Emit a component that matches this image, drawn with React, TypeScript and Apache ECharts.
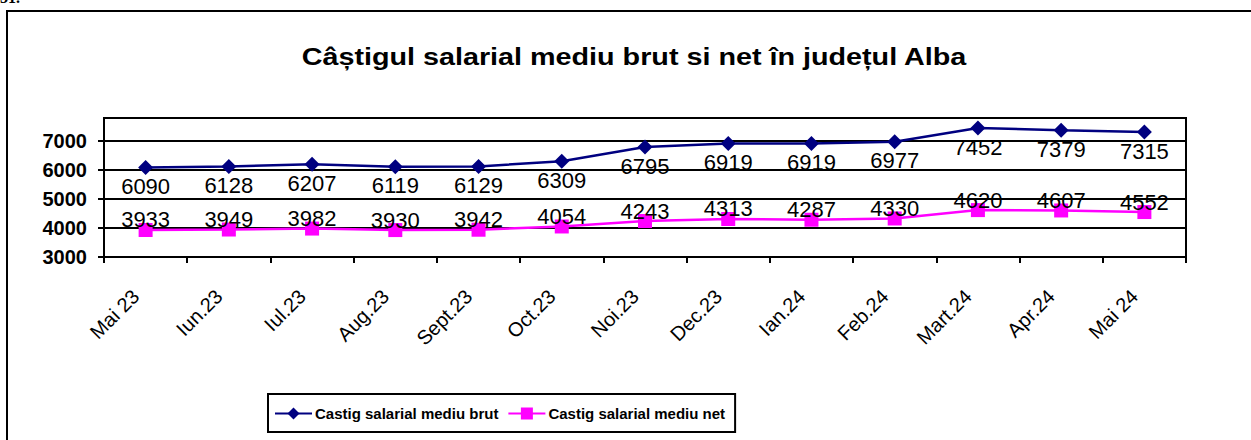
import React, { useEffect, useRef } from "react";
import * as echarts from "echarts";

const titleText = "Câștigul salarial mediu brut si net în județul Alba";
const categories = [
  "Mai 23", "Iun.23", "Iul.23", "Aug.23", "Sept.23", "Oct.23", "Noi.23",
  "Dec.23", "Ian.24", "Feb.24", "Mart.24", "Apr.24", "Mai 24",
];
const brutName = "Castig salarial mediu brut";
const netName = "Castig salarial mediu net";
const brutValues = [6090, 6128, 6207, 6119, 6129, 6309, 6795, 6919, 6919, 6977, 7452, 7379, 7315];
const netValues = [3933, 3949, 3982, 3930, 3942, 4054, 4243, 4313, 4287, 4330, 4620, 4607, 4552];
const yMin = 3000;
const yMax = 7800;
const yStep = 1000;

const FONT = "'Liberation Sans', Arial, sans-serif";

export default function App() {
  const ref = useRef<HTMLDivElement>(null);
  useEffect(() => {
    document.body.style.margin = "0";
    const chart = echarts.init(ref.current!, null, { renderer: "svg" });
    chart.setOption({
      animation: false,
      backgroundColor: "#fff",
      textStyle: { fontFamily: FONT },
      graphic: [
        {
          type: "rect",
          shape: { x: 7, y: 11, width: 1300, height: 500 },
          style: { fill: "none", stroke: "#000", lineWidth: 2 },
          silent: true,
          z: 100,
        },
        {
          type: "text",
          x: 0,
          y: -11,
          style: { text: "31.", font: "bold 16px 'Liberation Serif', serif", fill: "#000" },
        },
        {
          type: "text",
          x: 634,
          y: 57,
          scaleX: 1.25,
          style: {
            text: titleText,
            font: "bold 23px 'Liberation Sans', Arial, sans-serif",
            fill: "#000",
            align: "center",
            verticalAlign: "middle",
          },
        },
      ],
      legend: {
        left: 268,
        top: 394,
        orient: "horizontal",
        padding: [12, 10, 11, 6],
        borderColor: "#000",
        borderWidth: 2,
        itemWidth: 37,
        itemHeight: 15,
        itemGap: 9,
        textStyle: { fontFamily: FONT, fontSize: 15, fontWeight: "bold", color: "#000", padding: [0, 0, 0, -2] },
        data: [brutName, netName],
      },
      grid: {
        left: 104,
        top: 118,
        right: 65,
        bottom: 183,
        show: true,
        borderColor: "#000",
        borderWidth: 2,
        backgroundColor: "transparent",
      },
      xAxis: {
        type: "category",
        data: categories,
        boundaryGap: true,
        axisLine: { show: true, lineStyle: { color: "#000", width: 2 } },
        axisTick: { show: true, length: 6, lineStyle: { color: "#000", width: 2 } },
        axisLabel: {
          rotate: 45,
          margin: 26,
          padding: [0, 14, 0, 0],
          fontFamily: FONT,
          fontSize: 20,
          color: "#000",
          interval: 0,
        },
      },
      yAxis: {
        type: "value",
        min: yMin,
        max: yMax,
        interval: yStep,
        axisLine: { show: true, lineStyle: { color: "#000", width: 2 } },
        axisTick: { show: true, length: 6, lineStyle: { color: "#000", width: 2 } },
        axisLabel: {
          margin: 17,
          fontFamily: FONT,
          fontSize: 20,
          fontWeight: "bold",
          color: "#000",
          showMaxLabel: false,
          formatter: (v: number) => (v % yStep === 0 ? String(v) : ""),
        },
        splitLine: { show: true, lineStyle: { color: "#000", width: 2 } },
      },
      series: [
        {
          name: brutName,
          type: "line",
          data: brutValues,
          color: "#000080",
          lineStyle: { color: "#000080", width: 2.5 },
          itemStyle: { color: "#000080" },
          symbol: "diamond",
          symbolSize: 15,
          z: 3,
          label: {
            show: true,
            position: "inside",
            offset: [0, 19],
            fontFamily: FONT,
            fontSize: 22,
            color: "#000",
          },
        },
        {
          name: netName,
          type: "line",
          data: netValues,
          color: "#FF00FF",
          lineStyle: { color: "#FF00FF", width: 2.5 },
          itemStyle: { color: "#FF00FF" },
          symbol: "rect",
          symbolSize: 14,
          z: 2,
          label: {
            show: true,
            position: "inside",
            offset: [0, -10],
            fontFamily: FONT,
            fontSize: 22,
            color: "#000",
          },
        },
      ],
    });
    return () => chart.dispose();
  }, []);
  return <div ref={ref} style={{ width: 1251, height: 440 }} />;
}
